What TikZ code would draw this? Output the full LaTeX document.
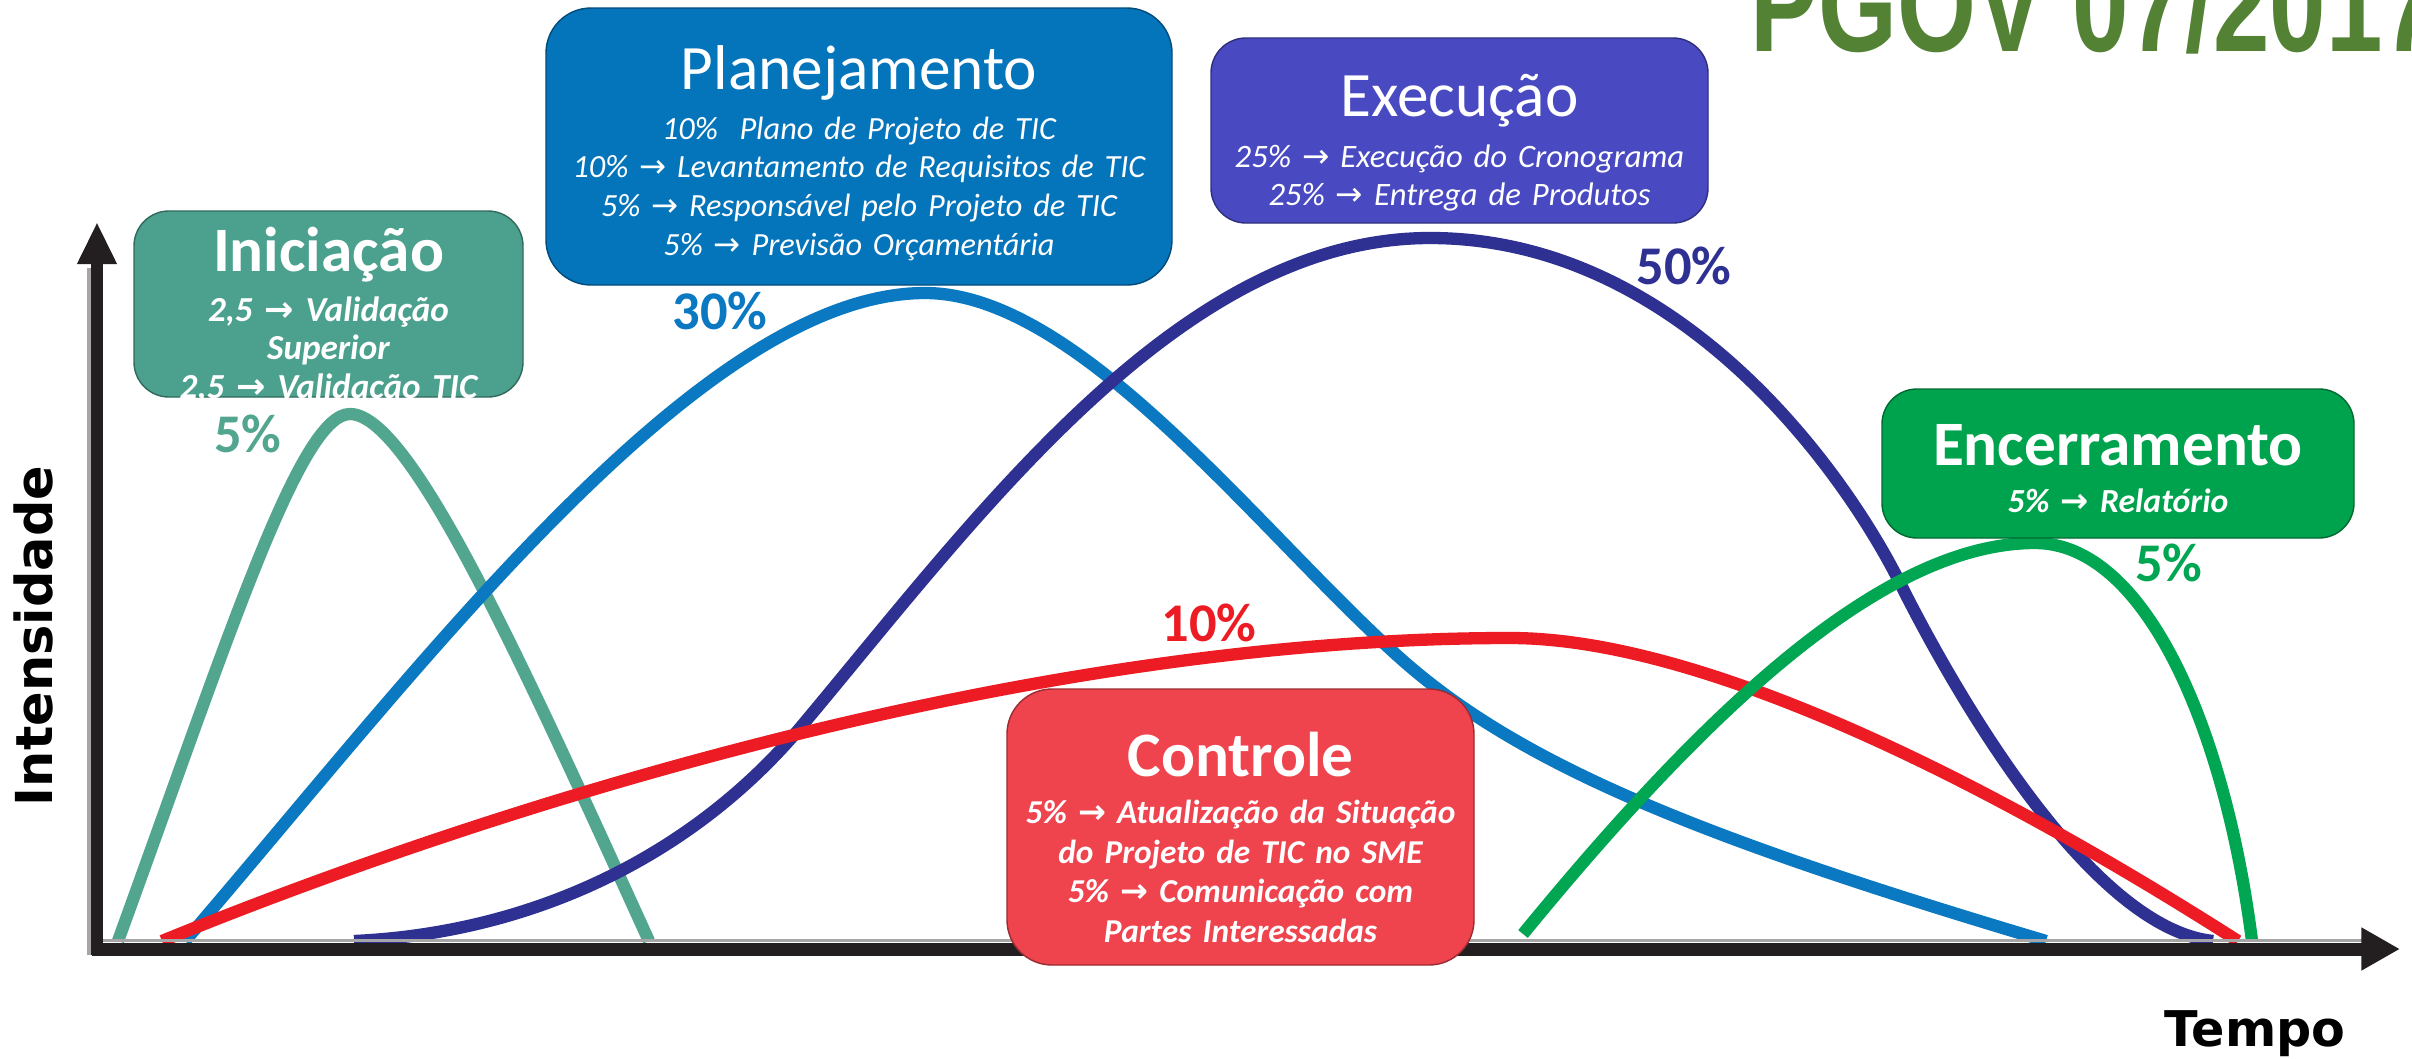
\documentclass[tikz,border=0pt]{standalone}
\usepackage{fontspec}
\setmainfont{Carlito}
\newfontfamily\arrowfont{DejaVu Sans}
\newfontfamily\axisfont{DejaVu Sans}
\newfontfamily\pgovfont{Liberation Sans}[FakeStretch=0.76]
\usetikzlibrary{arrows.meta,positioning}

\definecolor{tealphase}{HTML}{4BA18E}
\definecolor{tealline}{HTML}{52A690}
\definecolor{bluephase}{HTML}{0474BB}
\definecolor{blueline}{HTML}{0A79C1}
\definecolor{indigophase}{HTML}{4949C2}
\definecolor{indigoline}{HTML}{2E3192}
\definecolor{redphase}{HTML}{EF434E}
\definecolor{redline}{HTML}{ED1C24}
\definecolor{greenphase}{HTML}{00A34D}
\definecolor{greenline}{HTML}{00A651}
\definecolor{pgovgreen}{HTML}{548235}
\definecolor{axisblack}{HTML}{231F20}

\newcommand{\tarrow}{{\arrowfont\upshape →}}

\tikzset{
  phasebox/.style={draw=#1!65!black, fill=#1, rounded corners=0.35cm, inner sep=0pt},
  phasetitle/.style={text=white, anchor=base, inner sep=0pt, font=\fontsize{18}{21}\selectfont},
  phasebody/.style={text=white, anchor=base, inner sep=0pt, align=center},
  curve/.style={line width=3.5pt},
  pct/.style={font=\bfseries\fontsize{15.5}{17}\selectfont}
}

\begin{document}
\begin{tikzpicture}
    \useasboundingbox (0,0) rectangle (24.12,10.58);
    \fill[white] (0,0) rectangle (24.12,10.58);

    % Curves
    \draw[curve, tealline] (1.18,1.17) .. controls (2.3,4.25) and (3.0,6.44) .. (3.5,6.44)
        .. controls (4.1,6.44) and (5.2,4.0) .. (6.49,1.17);
    \draw[curve, blueline] (1.85,1.17) .. controls (4.2,3.9) and (7.0,7.65) .. (9.25,7.65)
        .. controls (10.8,7.65) and (12.6,5.25) .. (14.0,4.0)
        .. controls (15.2,2.93) and (17.0,2.2) .. (20.46,1.17);
    \draw[curve, indigoline] (3.54,1.17) .. controls (5.3,1.25) and (6.9,2.0) .. (8.0,3.3)
        .. controls (9.8,5.45) and (11.8,8.2) .. (14.3,8.2)
        .. controls (16.8,8.2) and (18.45,5.85) .. (19.0,4.75)
        .. controls (19.55,3.65) and (20.9,1.3) .. (22.13,1.17);
    \draw[curve, redline] (1.62,1.17) .. controls (5.0,2.55) and (10.3,4.2) .. (15.1,4.2)
        .. controls (17.2,4.2) and (20.3,2.5) .. (22.38,1.17);
    \draw[curve, greenline] (15.23,1.24) .. controls (17.0,3.4) and (18.8,5.15) .. (20.35,5.15)
        .. controls (21.45,5.15) and (22.25,3.3) .. (22.52,1.17);

    % Axes
    \draw[gray!70, line width=1.1pt] (0.89,1.03) -- (0.89,7.9);
    \draw[gray!70, line width=1.1pt] (0.92,1.175) -- (23.65,1.175);
    \draw[axisblack, line width=3.4pt, -{Triangle[width=10.5pt, length=12pt]}] (0.97,1.03) -- (0.97,8.36);
    \draw[axisblack, line width=3.7pt, -{Triangle[width=11.5pt, length=11pt]}] (0.92,1.09) -- (24.00,1.09);
    \node[rotate=90, font=\axisfont\bfseries\fontsize{14.5}{16}\selectfont] (intens) at (0.34,4.22) {Intensidade};
    \node[font=\axisfont\bfseries\fontsize{14}{16}\selectfont] (tempo) at (22.55,0.24) {Tempo};

    % Iniciacao
    \node[phasebox=tealphase, minimum width=3.89cm, minimum height=1.86cm] (iniciacao) at (3.285,7.54) {};
    \node[phasetitle, font=\bfseries\fontsize{18}{21}\selectfont] (initl) at ([yshift=-0.61cm]iniciacao.north) {Iniciação};
    \node[phasebody, text width=3.8cm, font=\fontsize{10}{11}\selectfont\bfseries\itshape] (inibody) at ([yshift=-1.11cm]iniciacao.north)
        {2,5 \tarrow{} Validação\\ Superior\\ 2,5 \tarrow{} Validação TIC};

    % Planejamento
    \node[phasebox=bluephase, rounded corners=0.45cm, minimum width=6.26cm, minimum height=2.77cm] (planej) at (8.59,9.115) {};
    \node[phasetitle] (plantl) at ([yshift=-0.82cm]planej.north) {Planejamento};
    \node[phasebody, text width=6.1cm, font=\fontsize{9.2}{11}\selectfont\itshape] (planbody) at ([yshift=-1.32cm]planej.north)
        {10\%\ \ Plano de Projeto de TIC\\
         10\% \tarrow{} Levantamento de Requisitos de TIC\\
         5\% \tarrow{} Responsável pelo Projeto de TIC\\
         5\% \tarrow{} Previsão Orçamentária};

    % Execucao
    \node[phasebox=indigophase, minimum width=4.97cm, minimum height=1.85cm] (execucao) at (14.595,9.275) {};
    \node[phasetitle] (exectl) at ([yshift=-0.79cm]execucao.north) {Execução};
    \node[phasebody, text width=4.8cm, font=\fontsize{9.3}{10.9}\selectfont\itshape] (execbody) at ([yshift=-1.30cm]execucao.north)
        {25\% \tarrow{} Execução do Cronograma\\
         25\% \tarrow{} Entrega de Produtos};

    % Controle
    \node[phasebox=redphase, rounded corners=0.45cm, minimum width=4.67cm, minimum height=2.76cm] (controle) at (12.405,2.31) {};
    \node[phasetitle, font=\bfseries\fontsize{18}{21}\selectfont] (ctrltl) at ([yshift=-0.88cm]controle.north) {Controle};
    \node[phasebody, text width=4.5cm, font=\fontsize{9.5}{11.3}\selectfont\bfseries\itshape] (ctrlbody) at ([yshift=-1.35cm]controle.north)
        {5\% \tarrow{} Atualização da Situação\\
         do Projeto de TIC no SME\\
         5\% \tarrow{} Comunicação com\\
         Partes Interessadas};

    % Encerramento
    \node[phasebox=greenphase, minimum width=4.72cm, minimum height=1.49cm] (encerr) at (21.18,5.945) {};
    \node[phasetitle, font=\bfseries\fontsize{18}{21}\selectfont] (enctl) at ([yshift=-0.77cm]encerr.north) {Encerramento};
    \node[phasebody, text width=4.6cm, font=\fontsize{9.6}{11}\selectfont\bfseries\itshape] (encbody) at ([yshift=-1.24cm]encerr.north)
        {5\% \tarrow{} Relatório};

    % Percentages
    \node[pct, text=tealline] (pini) at (2.48,6.24) {5\%};
    \node[pct, text=blueline] (pplan) at (7.20,7.47) {30\%};
    \node[pct, text=indigoline] (pexec) at (16.84,7.92) {50\%};
    \node[pct, text=redline] (pctrl) at (12.09,4.35) {10\%};
    \node[pct, text=greenline] (penc) at (21.69,4.95) {5\%};

    % Title
    \node[anchor=base west, text=pgovgreen, inner sep=0pt, font={\pgovfont\bfseries\fontsize{38}{40}\selectfont}] (pgov) at (17.5,10.07) {PGOV 07/2017};
\end{tikzpicture}
\end{document}
